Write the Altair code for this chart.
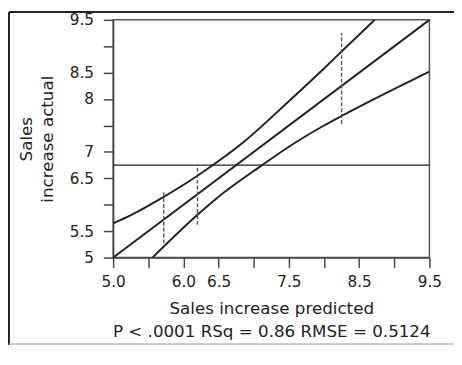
import altair as alt
import pandas as pd

# ---- data ----
x_ticks = [5.0, 5.5, 6.0, 6.5, 7.0, 7.5, 8.0, 8.5, 9.0, 9.5]
x_labels = [5.0, 6.0, 6.5, 7.5, 8.5, 9.5]
y_ticks = [5.0, 5.5, 6.0, 6.5, 7.0, 7.5, 8.0, 8.5, 9.0, 9.5]
y_labels = [5, 5.5, 6.5, 7, 8, 8.5, 9.5]

fit_x = [5.0, 9.5]
fit_y = [5.0, 9.5]
upper_x = [5.0, 5.26, 5.72, 6.20, 6.47, 6.84, 7.5, 8.0, 8.25, 8.72]
upper_y = [5.65, 5.81, 6.15, 6.55, 6.80, 7.17, 7.96, 8.58, 8.90, 9.5]
lower_x = [5.56, 6.20, 6.47, 7.12, 7.56, 8.0, 8.25, 9.5]
lower_y = [5.0, 5.81, 6.12, 6.75, 7.15, 7.50, 7.68, 8.52]
mean_y = [6.75]
dash_x = [5.72, 6.20, 8.25]
dash_y1 = [5.27, 5.62, 7.53]
dash_y2 = [6.25, 6.74, 9.25]

x_title = ["Sales increase predicted", "P < .0001 RSq = 0.86 RMSE = 0.5124"]
y_title = ["Sales", "increase actual"]

FONT = "DejaVu Sans"
INK = "#222222"
AXC = "#444444"
W, H = 322, 242
TOP = 9

curves = pd.concat([
    pd.DataFrame({"x": fit_x, "y": fit_y, "c": "fit"}),
    pd.DataFrame({"x": upper_x, "y": upper_y, "c": "upper"}),
    pd.DataFrame({"x": lower_x, "y": lower_y, "c": "lower"}),
])
dashes = pd.DataFrame({"x": dash_x, "y": dash_y1, "y2": dash_y2})
hline = pd.DataFrame({"y": mean_y})
one = pd.DataFrame({"a": [0]})

xs = alt.Scale(domain=[5, 9.5], nice=False, zero=False)
ys = alt.Scale(domain=[5, 9.5], nice=False, zero=False)

x_expr = "indexof(%s, datum.value) >= 0 ? format(datum.value, '.1f') : ''" % str(x_labels)
y_expr = "indexof(%s, datum.value) >= 0 ? toString(datum.value) : ''" % str(y_labels)

x_axis = alt.Axis(values=x_ticks, labelExpr=x_expr, title=x_title, grid=False,
                  tickSize=10, tickColor=AXC, tickWidth=1.5, domainColor=AXC, domainWidth=1.5,
                  labelFont=FONT, labelFontSize=15.5, labelColor=INK, labelPadding=7,
                  labelFlush=False, labelOverlap=False, labelBound=False,
                  titleFont=FONT, titleFontSize=17, titleFontWeight="normal", titleColor=INK,
                  titleLineHeight=23.5, titleBaseline="alphabetic", titleAlign="center",
                  titleX=W / 2, titleY=57)
y_axis = alt.Axis(values=y_ticks, labelExpr=y_expr, title=y_title, grid=False,
                  tickSize=10, tickColor=AXC, tickWidth=1.5, domainColor=AXC, domainWidth=1.5,
                  labelFont=FONT, labelFontSize=15.5, labelColor=INK, labelPadding=10,
                  labelFlush=False, labelOverlap=False, labelBound=False,
                  titleFont=FONT, titleFontSize=17, titleFontWeight="normal", titleColor=INK,
                  titleLineHeight=21.5, titleBaseline="alphabetic", titleAlign="center",
                  titleAngle=270, titleX=-83.3, titleY=H / 2)


def X(f):
    return alt.X(f, scale=xs, axis=x_axis)


def Y(f):
    return alt.Y(f, scale=ys, axis=y_axis)


lines = alt.Chart(curves).mark_line(color=INK, strokeWidth=2, interpolate="monotone", clip=True).encode(
    x=X("x:Q"), y=Y("y:Q"), detail="c:N",
)
mean_rule = alt.Chart(hline).mark_rule(color=INK, strokeWidth=1.3).encode(y=Y("y:Q"))
dash_rules = alt.Chart(dashes).mark_rule(color="#555555", strokeWidth=1.4, strokeDash=[4, 2]).encode(
    x=X("x:Q"), y=Y("y:Q"), y2="y2:Q",
)

frame_left = alt.Chart(one).mark_rule(color="#222222", strokeWidth=2).encode(
    x=alt.value(-106), y=alt.value(1 - TOP), y2=alt.value(340 - TOP))
frame_top = alt.Chart(one).mark_rule(color="#222222", strokeWidth=2).encode(
    x=alt.value(-106), x2=alt.value(360), y=alt.value(1 - TOP))
frame_bottom = alt.Chart(one).mark_rule(color="#bbbbbb", strokeWidth=1.5).encode(
    x=alt.value(-106), x2=alt.value(360), y=alt.value(339 - TOP))

chart = alt.layer(lines, mean_rule, dash_rules, frame_left, frame_top, frame_bottom).properties(
    width=W, height=H,
    autosize=alt.AutoSizeParams(type="none"),
    padding={"left": 107, "top": TOP, "right": 25, "bottom": 341 - TOP - H},
    background="white",
).configure_view(stroke="#555555", strokeWidth=1.5)

chart.save("out.html", embed_options={"renderer": "svg", "actions": False})
